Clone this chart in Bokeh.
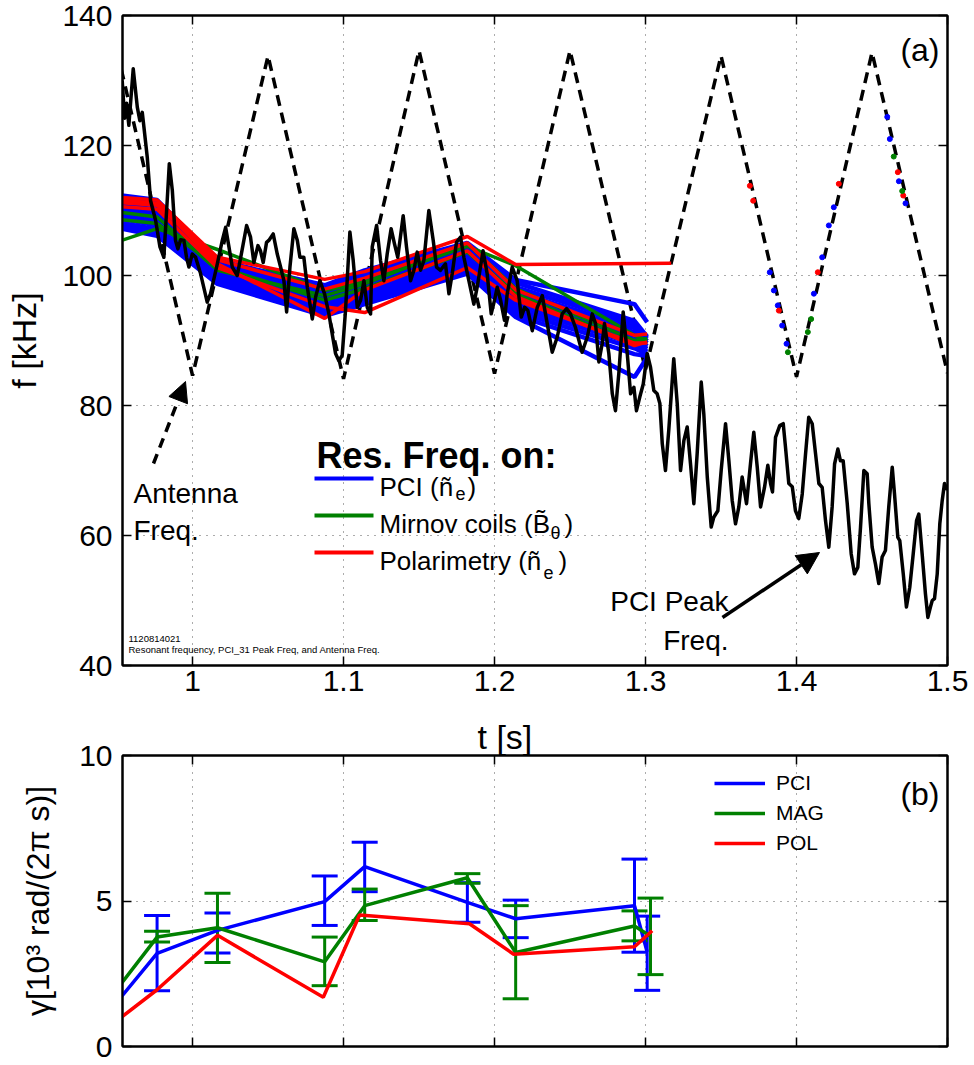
from bokeh.plotting import figure
from bokeh.layouts import column
from bokeh.models import (Range1d, FixedTicker, LinearAxis, CustomJSTickFormatter, Arrow,
                          NormalHead, Whisker, TeeHead, ColumnDataSource, Legend, LegendItem)
from bokeh.core.properties import value
from bokeh.embed import file_html
from bokeh.resources import INLINE

FONT = "Liberation Sans"
BLUE, GREEN, RED = "#0000FF", "#008000", "#FF0000"

# ---------------- data: panel (a) ----------------
# Antenna frequency (triangle sweep vertices)
ant_t = [0.95, 1.0, 1.05, 1.1, 1.15, 1.2, 1.25, 1.3, 1.35, 1.4, 1.45, 1.5]
ant_f = [134.5, 84.6, 133.8, 84.1, 134.6, 84.9, 134.6, 85.5, 133.8, 84.4, 134.3, 85.0]

# PCI peak frequency
pci_t = [0.9534, 0.9550, 0.9563, 0.9578, 0.9607, 0.9634, 0.9651, 0.9667, 0.9678, 0.9700,
         0.9722, 0.9755, 0.9784, 0.9810, 0.9832, 0.9846, 0.9866, 0.9887, 0.9903, 0.9921,
         0.9943, 0.9960, 0.9976, 0.9998, 1.0020, 1.0053, 1.0097, 1.0119, 1.0164, 1.0197,
         1.0219, 1.0241, 1.0263, 1.0296, 1.0323, 1.0358, 1.0384, 1.0406, 1.0433, 1.0450,
         1.0468, 1.0490, 1.0505, 1.0534, 1.0561, 1.0583, 1.0605, 1.0623, 1.0645, 1.0671,
         1.0694, 1.0711, 1.0737, 1.0760, 1.0793, 1.0815, 1.0843, 1.0874, 1.0903, 1.0925,
         1.0947, 1.0969, 1.0991, 1.1013, 1.1042, 1.1064, 1.1091, 1.1113, 1.1135, 1.1157,
         1.1179, 1.1190, 1.1219, 1.1245, 1.1267, 1.1289, 1.1315, 1.1337, 1.1359, 1.1395,
         1.1417, 1.1444, 1.1466, 1.1488, 1.1510, 1.1532, 1.1565, 1.1594, 1.1616, 1.1642,
         1.1675, 1.1698, 1.1720, 1.1748, 1.1775, 1.1797, 1.1830, 1.1863, 1.1885, 1.1924,
         1.1951, 1.1978, 1.2000, 1.2018, 1.2040, 1.2066, 1.2084, 1.2117, 1.2150, 1.2177,
         1.2199, 1.2221, 1.2250, 1.2283, 1.2316, 1.2349, 1.2382, 1.2415, 1.2448, 1.2477,
         1.2503, 1.2536, 1.2580, 1.2614, 1.2647, 1.2669, 1.2691, 1.2713, 1.2728, 1.2757,
         1.2780, 1.2801, 1.2823, 1.2852, 1.2879, 1.2901, 1.2923, 1.2940, 1.2962, 1.2985,
         1.3011, 1.3033, 1.3055, 1.3077, 1.3095, 1.3111, 1.3132, 1.3154, 1.3187, 1.3210,
         1.3232, 1.3254, 1.3276, 1.3298, 1.3320, 1.3342, 1.3369, 1.3386, 1.3409, 1.3435,
         1.3452, 1.3479, 1.3501, 1.3530, 1.3552, 1.3574, 1.3596, 1.3618, 1.3640, 1.3669,
         1.3695, 1.3717, 1.3740, 1.3762, 1.3788, 1.3810, 1.3828, 1.3841, 1.3861, 1.3889,
         1.3912, 1.3927, 1.3949, 1.3972, 1.3993, 1.4015, 1.4038, 1.4060, 1.4081, 1.4104,
         1.4126, 1.4148, 1.4170, 1.4192, 1.4214, 1.4236, 1.4252, 1.4274, 1.4291, 1.4309,
         1.4336, 1.4362, 1.4384, 1.4406, 1.4424, 1.4446, 1.4468, 1.4479, 1.4501, 1.4523,
         1.4545, 1.4567, 1.4589, 1.4611, 1.4634, 1.4649, 1.4671, 1.4684, 1.4707, 1.4728,
         1.4750, 1.4773, 1.4795, 1.4810, 1.4832, 1.4854, 1.4870, 1.4887, 1.4899, 1.4914,
         1.4932, 1.4949, 1.4965, 1.4980, 1.5000]
pci_f = [130.0, 124.2, 126.5, 123.1, 131.8, 125.9, 123.8, 125.1, 122.8, 118.2,
         111.5, 108.5, 104.4, 102.8, 111.5, 117.2, 113.1, 105.4, 104.1, 105.5,
         105.4, 102.8, 101.3, 103.3, 102.8, 100.3, 95.9, 97.2, 101.8, 105.4,
         107.4, 104.4, 101.3, 100.0, 103.3, 107.7, 105.9, 102.0, 104.6, 103.8,
         102.0, 105.1, 105.4, 106.4, 103.3, 101.3, 99.2, 94.4, 101.3, 107.2,
         105.4, 102.8, 102.8, 98.2, 93.3, 96.7, 99.2, 97.2, 94.1, 91.0,
         88.0, 86.9, 87.7, 94.6, 106.7, 102.3, 95.1, 96.2, 99.2, 95.1,
         94.1, 104.4, 107.7, 102.3, 99.2, 103.3, 107.2, 104.9, 102.8, 109.2,
         104.4, 99.2, 100.8, 103.6, 100.8, 102.3, 110.0, 105.4, 101.3, 100.8,
         101.8, 97.2, 100.3, 105.1, 105.9, 102.8, 99.2, 95.6, 98.2, 103.8,
         100.3, 94.1, 96.2, 98.2, 96.2, 93.1, 97.2, 101.3, 99.2, 93.6,
         95.1, 94.6, 91.5, 95.1, 96.9, 92.6, 88.2, 90.5, 94.1, 94.9,
         94.1, 92.0, 88.2, 90.5, 94.1, 92.6, 86.7, 89.5, 92.6, 88.0,
         81.8, 79.2, 84.9, 94.4, 88.0, 81.8, 82.8, 79.2, 81.3, 83.3,
         88.0, 85.9, 82.3, 81.8, 80.3, 74.1, 70.0, 76.2, 87.2, 80.3,
         70.0, 74.6, 76.7, 71.0, 64.9, 72.6, 83.6, 78.7, 69.0, 61.3,
         62.8, 63.8, 70.0, 77.2, 71.5, 65.4, 61.8, 64.4, 69.0, 64.9,
         71.0, 75.9, 70.5, 64.4, 67.4, 70.8, 68.0, 66.7, 75.1, 76.9,
         77.2, 73.6, 68.0, 67.5, 63.8, 62.6, 66.4, 72.6, 78.2, 77.2,
         72.6, 68.0, 67.4, 62.3, 58.2, 64.4, 71.0, 73.3, 71.5, 71.5,
         64.9, 57.2, 54.1, 55.1, 61.3, 70.0, 69.5, 64.9, 58.2, 55.6,
         52.6, 56.7, 57.7, 64.4, 70.5, 66.4, 59.7, 59.2, 54.1, 49.0,
         52.0, 57.2, 62.3, 63.3, 57.2, 51.0, 47.4, 49.0, 50.0, 50.3,
         54.1, 61.8, 65.4, 68.0, 67.0]

# Resonant frequency traces (piecewise linear between fit times)
res_t = [0.953, 0.9765, 1.0165, 1.0875, 1.114, 1.182, 1.214, 1.2927, 1.3011]
res_pci = [
    [112.3, 111.6, 102.3, 98.5, 100.8, 105.0, 99.3, 95.6, 92.8],
    [111.9, 111.3, 101.9, 98.1, 100.3, 104.6, 98.9, 93.0, 90.6],
    [111.4, 110.8, 101.4, 97.6, 99.8, 104.2, 98.2, 92.5, 90.3],
    [110.9, 110.1, 100.9, 97.1, 99.2, 103.6, 97.5, 91.9, 89.9],
    [110.3, 109.5, 100.6, 96.6, 98.7, 103.1, 96.9, 91.3, 89.6],
    [109.8, 108.9, 100.2, 96.0, 98.1, 102.6, 96.3, 90.7, 89.1],
    [109.2, 108.3, 99.8, 95.5, 97.6, 102.0, 95.7, 90.1, 88.7],
    [108.7, 107.7, 99.5, 95.1, 97.0, 101.5, 95.1, 89.5, 88.3],
    [108.1, 107.1, 99.2, 94.6, 96.4, 101.0, 94.5, 88.8, 87.9],
    [107.6, 106.5, 98.9, 94.1, 95.9, 100.6, 93.9, 87.9, 87.6],
    [107.2, 106.1, 98.7, 93.8, 95.6, 100.3, 93.6, 84.4, 87.4],
]
res_mag = [
    [105.4, 107.2, 104.0, 97.7, 99.0, 104.5, 101.5, 90.8, 90.0],
    [109.7, 109.0, 100.8, 96.9, 98.7, 104.9, 98.0, 90.0, 90.3],
    [108.6, 108.0, 101.4, 96.2, 98.0, 103.6, 97.2, 89.4, 89.8],
]
res_pol_t = [0.953, 0.9765, 1.0165, 1.0875, 1.114, 1.182, 1.214, 1.317]
res_pol_flat = [112.0, 111.6, 102.8, 99.4, 100.6, 106.0, 101.7, 101.9]
res_pol = [
    [111.2, 110.8, 102.4, 97.9, 99.6, 105.0, 97.8, 90.8, 91.0],
    [110.6, 110.2, 101.2, 95.2, 94.3, 101.2, 96.2, 89.6, 89.6],
    [111.6, 111.1, 101.8, 93.4, 97.8, 103.8, 96.8, 89.2, 89.8],
]

# Resonant points found on the antenna sweep
dot_red_t = [1.3691, 1.3713, 1.3883, 1.4141, 1.4280, 1.4671, 1.4707]
dot_red_f = [113.8, 111.5, 94.6, 100.5, 114.1, 115.9, 112.3]
dot_blue_t = [1.3823, 1.3850, 1.3876, 1.3905, 1.3934, 1.4115, 1.4170, 1.4214, 1.4247,
              1.4601, 1.4618, 1.4678, 1.4722]
dot_blue_f = [100.5, 97.7, 95.4, 92.3, 89.5, 97.2, 102.8, 107.7, 110.5,
              124.4, 121.0, 114.5, 111.1]
dot_green_t = [1.3943, 1.4075, 1.4097, 1.4644, 1.4700]
dot_green_f = [88.2, 91.3, 93.3, 118.3, 113.0]

# ---------------- data: panel (b) ----------------
nan = float("nan")
g_pci_t = [0.953, 0.9765, 1.0165, 1.0875, 1.114, 1.182, 1.214, 1.2927, 1.3011]
g_pci = [1.72, 3.20, 3.99, 4.98, 6.18, 4.95, 4.39, 4.84, 3.25]
g_pci_lo = [nan, 1.92, 3.21, 4.16, 5.32, 4.27, 3.74, 3.24, 1.93]
g_pci_hi = [nan, 4.50, 4.59, 5.86, 7.02, 5.63, 5.03, 6.44, 4.48]
g_mag_t = [0.953, 0.9765, 1.0165, 1.0875, 1.114, 1.182, 1.214, 1.2927, 1.3033]
g_mag = [2.18, 3.76, 4.08, 2.91, 4.84, 5.80, 3.23, 4.14, 3.79]
g_mag_lo = [nan, 3.59, 2.89, 2.09, 4.33, 5.61, 1.64, 3.63, 2.47]
g_mag_hi = [nan, 3.96, 5.27, 3.76, 5.41, 5.94, 4.84, 4.66, 5.10]
g_pol_t = [0.953, 0.9765, 1.0165, 1.0866, 1.1106, 1.1834, 1.2127, 1.2927, 1.3044]
g_pol = [1.01, 1.95, 3.82, 1.69, 4.52, 4.22, 3.17, 3.43, 3.98]

x_ticks = [1.0, 1.1, 1.2, 1.3, 1.4, 1.5]
f_ticks = [40, 60, 80, 100, 120, 140]
g_ticks = [0, 5, 10]

# ---------------- layout (pixel geometry of the frames) ----------------
L, R = 122, 947
A_TOP, A_BOT = 15, 665
B_TOP, B_BOT = 755, 1046
T0, T1 = 0.9536, 1.5
A_BOTTOM_BORDER = 42


def tx(px):
    return T0 + (px - L) / (R - L) * (T1 - T0)


def fa(py):
    return 140 - (py - A_TOP) / (A_BOT - A_TOP) * 100


def gb(py):
    return 10 - (py - B_TOP) / (B_BOT - B_TOP) * 10


BLANK = "return '';"


def style(p, yticks, show_x_labels):
    p.outline_line_color = "black"
    p.outline_line_width = 2
    p.background_fill_color = "white"
    p.border_fill_color = "white"
    p.xaxis.ticker = FixedTicker(ticks=x_ticks)
    p.yaxis.ticker = FixedTicker(ticks=yticks)
    p.xaxis.formatter = CustomJSTickFormatter(code="return Number(tick.toFixed(2)).toString();")
    for ax in p.xaxis + p.yaxis:
        ax.major_tick_in = 9
        ax.major_tick_out = 0
        ax.minor_tick_line_color = None
        ax.axis_line_width = 2
        ax.major_tick_line_width = 1.5
        ax.major_label_text_font = FONT
        ax.major_label_text_font_size = "30px"
        ax.major_label_text_color = "black"
        ax.axis_label_text_font = FONT
        ax.axis_label_text_font_style = "normal"
        ax.axis_label_text_color = "black"
    p.yaxis.major_label_standoff = 10
    p.xaxis.major_label_standoff = 5
    if not show_x_labels:
        p.xaxis.formatter = CustomJSTickFormatter(code=BLANK)
        p.xaxis.major_label_text_font_size = "8px"
        p.xaxis.major_label_standoff = 0
    p.xgrid.ticker = FixedTicker(ticks=x_ticks)
    p.ygrid.ticker = FixedTicker(ticks=yticks)
    p.grid.grid_line_color = "#222222"
    p.grid.grid_line_alpha = 0.75
    p.grid.grid_line_dash = "1 6"
    p.grid.grid_line_width = 1
    for loc, tk in (("right", yticks), ("above", x_ticks)):
        ax = LinearAxis(ticker=FixedTicker(ticks=tk), formatter=CustomJSTickFormatter(code=BLANK),
                        major_label_text_font_size="8px",
                        major_label_standoff=0, major_tick_in=9, major_tick_out=0,
                        major_tick_line_width=1.5, minor_tick_line_color=None, axis_line_width=2)
        p.add_layout(ax, loc)


# ---------------- panel (a) ----------------
p = figure(frame_width=R - L, frame_height=A_BOT - A_TOP, x_range=Range1d(T0, T1),
           y_range=Range1d(40, 140), output_backend="svg", toolbar_location=None,
           min_border_left=L, min_border_right=974 - R, min_border_top=A_TOP,
           min_border_bottom=A_BOTTOM_BORDER)
style(p, f_ticks, True)
p.yaxis[0].axis_label = "f [kHz]"
p.yaxis[0].axis_label_text_font_size = "34px"
p.yaxis[0].axis_label_standoff = 16

p.line(ant_t, ant_f, line_color="black", line_width=3.5, line_dash="11 7")
for ys in res_pci:
    p.line(res_t, ys, line_color=BLUE, line_width=4.5)
for ys in res_mag:
    p.line(res_t, ys, line_color=GREEN, line_width=3.5)
p.line(res_pol_t, res_pol_flat, line_color=RED, line_width=3.5)
for ys in res_pol:
    p.line(res_t, ys, line_color=RED, line_width=3.5)
p.scatter(dot_blue_t, dot_blue_f, size=5, color=BLUE)
p.scatter(dot_red_t, dot_red_f, size=5, color=RED)
p.scatter(dot_green_t, dot_green_f, size=5, color=GREEN)
p.line(pci_t, pci_f, line_color="black", line_width=3.5, line_join="round")

# annotations
p.add_layout(Arrow(end=NormalHead(size=20, fill_color="black", line_color="black", line_width=1),
                   x_start=tx(153), y_start=fa(463), x_end=tx(185), y_end=fa(381),
                   line_color="black", line_width=3.5, line_dash="10 7"))
p.add_layout(Arrow(end=NormalHead(size=22, fill_color="black", line_color="black", line_width=1),
                   x_start=tx(722), y_start=fa(617), x_end=tx(819), y_end=fa(552),
                   line_color="black", line_width=3.5))


def txt(fig, xs, ys, texts, size, align="left", style_="normal", baseline="alphabetic"):
    fig.text(x=xs, y=ys, text=texts, text_font=value(FONT), text_font_size=value(size),
             text_font_style=style_, text_align=align, text_baseline=baseline, text_color="black")


txt(p, [tx(133), tx(133)], [fa(493), fa(530)], ["Antenna", "Freq."], "28px")
txt(p, [tx(728), tx(728)], [fa(601), fa(640)], ["PCI Peak", "Freq."], "28px", align="right")
txt(p, [tx(939)], [fa(49)], ["(a)"], "32px", align="right")
txt(p, [tx(128)], [fa(638)], ["1120814021"], "9.5px")
txt(p, [tx(128)], [fa(649)], ["Resonant frequency, PCI_31 Peak Freq, and Antenna Freq."], "9.5px")

# manual legend "Res. Freq. on:"
txt(p, [tx(316)], [fa(455)], ["Res. Freq. on:"], "36px", style_="bold")
p.segment(x0=[tx(314)] * 3, x1=[tx(373)] * 3, y0=[fa(478), fa(515), fa(552)],
          y1=[fa(478), fa(515), fa(552)], line_color=[BLUE, GREEN, RED], line_width=4)
txt(p, [tx(379), tx(379), tx(379)], [fa(486), fa(523), fa(560)],
    ["PCI (\u00f1", "Mirnov coils (B\u0303", "Polarimetry (\u00f1"], "26px")
txt(p, [tx(455), tx(550), tx(543)], [fa(493), fa(532), fa(572)], ["e", "\u03b8", "e"], "18px")
txt(p, [tx(467), tx(564), tx(558)], [fa(486), fa(523), fa(560)], [")", ")", ")"], "26px")

# ---------------- panel (b) ----------------
p2 = figure(frame_width=R - L, frame_height=B_BOT - B_TOP, x_range=p.x_range,
            y_range=Range1d(0, 10), output_backend="svg", toolbar_location=None,
            min_border_left=L, min_border_right=974 - R,
            min_border_top=B_TOP - A_BOT - A_BOTTOM_BORDER, min_border_bottom=1065 - B_BOT)
style(p2, g_ticks, False)
p2.yaxis[0].axis_label = "\u03b3[10\u00b3 rad/(2\u03c0 s)]"
p2.yaxis[0].axis_label_text_font_size = "32px"
p2.yaxis[0].axis_label_standoff = 20
p2.title.text = "t [s]"
p2.title.text_font = FONT
p2.title.text_font_size = "34px"
p2.title.text_font_style = "normal"
p2.title.text_color = "black"
p2.title.align = "left"
p2.title.offset = 355
p2.title.standoff = 0

r_pci = p2.line(g_pci_t, g_pci, line_color=BLUE, line_width=3.5)
r_mag = p2.line(g_mag_t, g_mag, line_color=GREEN, line_width=3.5)
r_pol = p2.line(g_pol_t, g_pol, line_color=RED, line_width=3.5)
for t_, lo, hi, col in ((g_pci_t, g_pci_lo, g_pci_hi, BLUE), (g_mag_t, g_mag_lo, g_mag_hi, GREEN)):
    src = ColumnDataSource(dict(t=t_, lo=lo, hi=hi))
    p2.add_layout(Whisker(source=src, base="t", lower="lo", upper="hi", dimension="height",
                          line_color=col, line_width=3,
                          lower_head=TeeHead(size=26, line_color=col, line_width=3),
                          upper_head=TeeHead(size=26, line_color=col, line_width=3)))

leg = Legend(items=[LegendItem(label="PCI", renderers=[r_pci]),
                    LegendItem(label="MAG", renderers=[r_mag]),
                    LegendItem(label="POL", renderers=[r_pol])],
             location=(592, 191), background_fill_alpha=0, border_line_alpha=0,
             label_text_font=FONT, label_text_font_size="21px", label_text_color="black",
             glyph_width=51, glyph_height=20,
             label_height=20, spacing=6, padding=0, margin=0, label_standoff=11)
p2.add_layout(leg)
txt(p2, [tx(939)], [gb(793)], ["(b)"], "32px", align="right")

layout = column(p, p2, spacing=0)
open("out.html", "w").write(file_html(layout, INLINE))
